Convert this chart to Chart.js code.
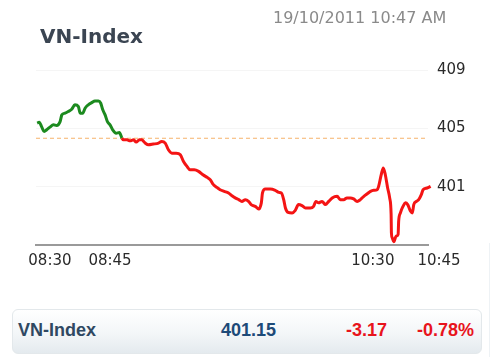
<!DOCTYPE html>
<html>
<head>
<meta charset="utf-8">
<script src="https://cdn.jsdelivr.net/npm/chart.js@4"></script>
<style>
  html, body { margin: 0; padding: 0; background: #ffffff; }
  #wrap { position: relative; width: 500px; height: 357px; overflow: hidden; background: #fff; }
  #chart { position: absolute; left: 0; top: 0; }
  .title { position: absolute; left: 40px; top: 24px; font: bold 20px "DejaVu Sans", sans-serif; color: #3b4552; white-space: nowrap; }
  .stamp { position: absolute; left: 273px; top: 8px; font: 16px "DejaVu Sans", sans-serif; color: #8a8a8a; white-space: nowrap; }
  .bar { position: absolute; left: 12px; top: 309px; width: 470px; height: 45px; box-sizing: border-box;
         border-radius: 6px; border: 1px solid #e3e8eb; background: linear-gradient(#ffffff 0%, #f3f6f8 55%, #e4eaee 100%); }
  .bar span { position: absolute; top: 0; font: bold 18px "Liberation Sans", Arial, sans-serif; line-height: 40px; white-space: nowrap; }
  .vline { position: absolute; left: 489px; top: 243px; width: 1px; height: 114px; background: #eef2f5; }
</style>
</head>
<body>
<div id="wrap">
  <canvas id="chart" width="500" height="290"></canvas>
  <div class="title">VN-Index</div>
  <div class="stamp">19/10/2011 10:47 AM</div>
  <div class="vline"></div>
  <div class="bar">
    <span id="bName" style="left:5px;color:#2f4862;"></span>
    <span id="bLast" style="left:208px;color:#1d4a78;"></span>
    <span id="bChg" style="left:333px;color:#e8141c;"></span>
    <span id="bPct" style="left:404px;color:#e8141c;"></span>
  </div>
</div>
<script>
// ---- data (minutes since 08:30, index value) ----
const indexName = 'VN-Index';
const lastValue = '401.15';
const change = '-3.17';
const changePct = '-0.78%';
const prevClose = 404.32;

const minutes = [
  0.4, 1.1, 2.0, 2.8, 3.7, 4.8, 6.0, 7.1, 8.3, 8.9, 10.0, 11.1, 12.3, 13.4, 14.6, 15.2, 16.1, 16.9, 18.0, 19.2,
  20.3, 21.5, 22.3, 23.0, 23.8, 24.6, 25.5, 26.4, 27.6, 28.7, 29.6, 30.1, 31.3, 32.4, 33.6, 34.5, 35.6, 36.4, 37.6, 38.7,
  40.4, 42.2, 43.3, 44.5, 45.6, 46.8, 48.3, 49.7, 50.8, 52.0, 53.1, 54.5, 56.0, 57.5, 58.9, 60.0, 61.1, 62.3, 63.4, 64.8,
  66.3, 67.5, 68.6, 69.8, 70.9, 72.1, 73.2, 74.1, 75.5, 76.7, 77.6, 78.0, 79.0, 80.7, 82.4, 83.6, 84.5, 85.3, 85.9, 86.8,
  88.2, 89.3, 90.4, 91.6, 92.8, 94.5, 95.6, 96.4, 97.3, 98.5, 99.7, 100.8, 102.0, 103.7, 104.8, 106.0, 107.1, 108.3, 109.4, 110.6,
  111.7, 112.9, 114.0, 115.2, 116.3, 117.5, 118.0, 118.9, 119.6, 120.3, 121.1, 121.8, 122.3, 122.4, 122.7, 123.2, 124.0, 124.7, 124.9, 125.5,
  126.4, 127.2, 128.0, 129.0, 129.6, 130.1, 131.0, 131.8, 132.7, 133.3, 134.7, 135.9, 137.0
];
const values = [
  405.36, 405.42, 405.08, 404.78, 404.90, 405.08, 405.24, 405.19, 405.46, 405.92, 406.04, 406.15, 406.31, 406.61, 406.49, 406.04, 406.04, 406.38, 406.61, 406.76,
  406.88, 406.88, 406.72, 406.27, 405.92, 405.46, 405.24, 404.90, 404.67, 404.71, 404.33, 404.21, 404.21, 404.15, 404.21, 404.06, 404.21, 404.21, 403.99, 403.87,
  403.92, 403.99, 404.10, 403.99, 403.53, 403.30, 403.30, 403.19, 402.73, 402.39, 402.16, 402.16, 402.05, 401.82, 401.64, 401.48, 401.14, 400.95, 400.79, 400.68,
  400.57, 400.38, 400.23, 400.11, 399.99, 400.11, 399.99, 399.77, 399.65, 399.47, 399.89, 400.57, 400.84, 400.84, 400.75, 400.61, 400.57, 400.11, 399.54, 399.24,
  399.20, 399.38, 399.77, 399.70, 399.54, 399.54, 399.65, 399.99, 399.89, 399.99, 399.77, 399.99, 400.23, 400.34, 400.11, 400.11, 400.23, 400.23, 400.16, 399.99,
  400.11, 400.34, 400.50, 400.68, 400.75, 400.79, 401.02, 401.82, 402.28, 401.82, 400.91, 400.23, 399.08, 397.83, 397.49, 397.22, 397.60, 397.72, 398.63, 399.20,
  399.65, 399.89, 399.77, 399.31, 399.20, 399.77, 399.99, 400.11, 400.45, 400.79, 400.91, 401.02, 401.15
];

const yTickValues = [397, 401, 405, 409];
const xTickLabels = ['08:30', '08:45', '10:30', '10:45'];
const xTickPositions = [4.8, 25.5, 116.0, 138.8];

// ---- text boxes ----
document.getElementById('bName').textContent = indexName;
document.getElementById('bLast').textContent = lastValue;
document.getElementById('bChg').textContent = change;
document.getElementById('bPct').textContent = changePct;

const GREEN = '#1c8a1f';
const RED = '#f41414';

new Chart(document.getElementById('chart'), {
  type: 'line',
  data: {
    datasets: [
      {
        data: minutes.map((m, i) => ({ x: m, y: values[i] })),
        borderWidth: 3,
        pointRadius: 0,
        cubicInterpolationMode: 'monotone',
        borderColor: RED,
        clip: false,
        segment: {
          borderColor: ctx => ctx.p1.parsed.y >= prevClose ? GREEN : RED
        },
        order: 1
      },
      {
        data: [{ x: 0, y: prevClose }, { x: 135, y: prevClose }],
        borderColor: '#f6b26b',
        borderWidth: 1,
        borderDash: [4, 3],
        pointRadius: 0,
        order: 2
      }
    ]
  },
  options: {
    responsive: false,
    animation: false,
    devicePixelRatio: 1,
    layout: { padding: { left: 36, top: 70, right: 0, bottom: 0 } },
    plugins: { legend: { display: false }, tooltip: { enabled: false } },
    scales: {
      x: {
        type: 'linear',
        min: 0,
        max: 135,
        afterBuildTicks: s => { s.ticks = xTickPositions.map(v => ({ value: v })); },
        afterFit: s => { s.height = 45; },
        grid: { display: false, drawTicks: false },
        border: { display: true, color: '#9a9a9a', width: 2 },
        ticks: {
          autoSkip: false,
          maxRotation: 0,
          minRotation: 0,
          padding: 7,
          color: '#2a2a2a',
          font: { family: 'DejaVu Sans', size: 15 },
          callback: (v, i) => xTickLabels[i]
        }
      },
      y: {
        type: 'linear',
        position: 'right',
        min: 397,
        max: 409,
        afterBuildTicks: s => { s.ticks = yTickValues.map(v => ({ value: v })); },
        afterFit: s => { s.width = 72; },
        grid: {
          drawTicks: false,
          color: ctx => (ctx.tick && ctx.tick.value === 397) ? 'rgba(0,0,0,0)' : '#f5f5f5'
        },
        border: { display: false },
        ticks: {
          padding: 9,
          color: '#2a2a2a',
          font: { family: 'DejaVu Sans', size: 15 },
          callback: v => v === 397 ? '' : String(v)
        }
      }
    }
  }
});
</script>
</body>
</html>
